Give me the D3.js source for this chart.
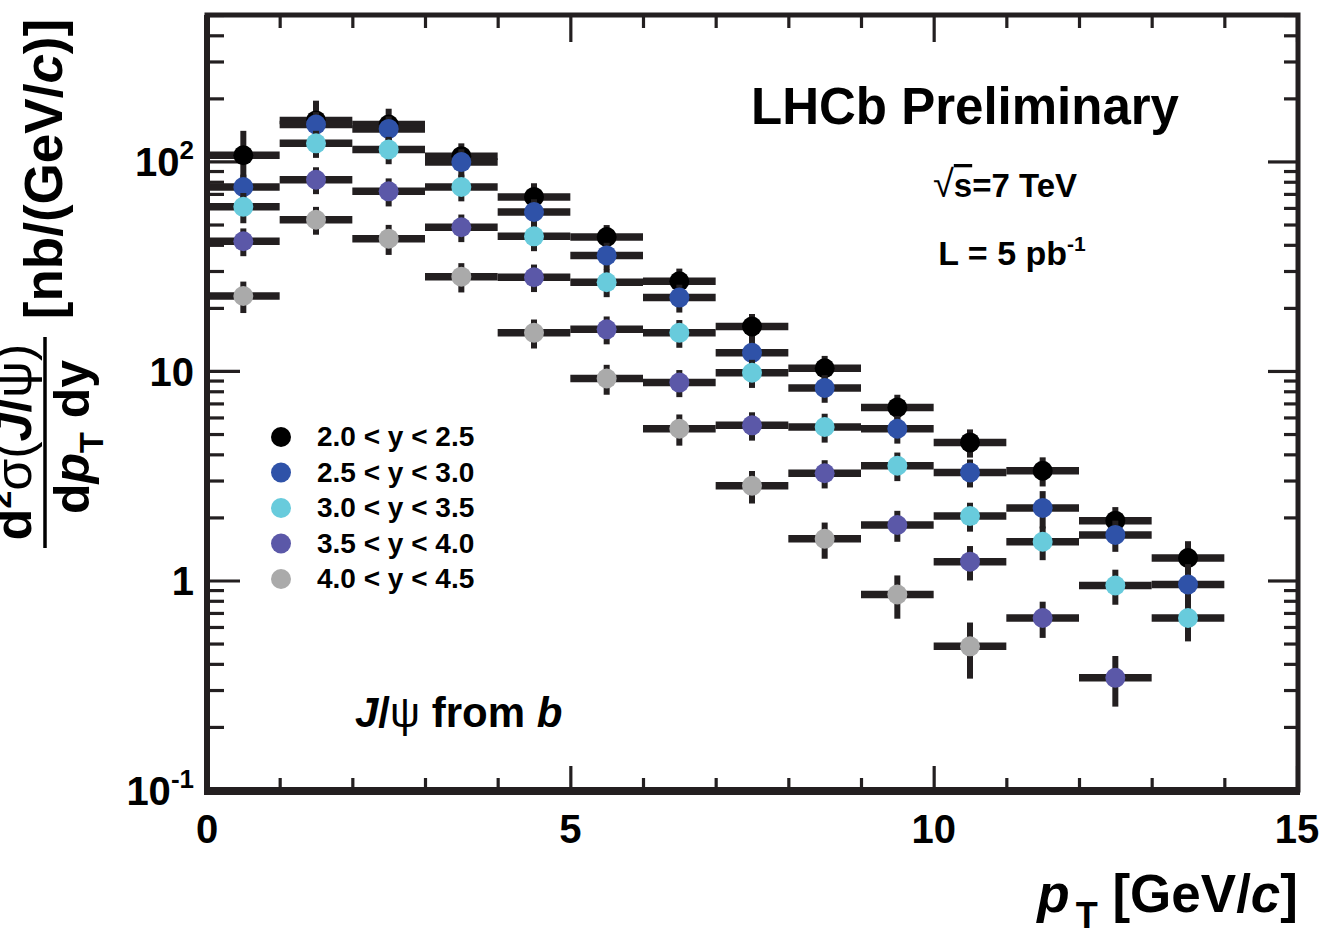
<!DOCTYPE html>
<html><head><meta charset="utf-8">
<script src="https://cdn.jsdelivr.net/npm/d3@7"></script>
<style>
html,body{margin:0;padding:0;background:#fff;}
svg text{font-family:"Liberation Sans",Arial,Helvetica,sans-serif;font-weight:bold;fill:#000;}
</style></head><body>
<svg id="chart" width="1325" height="939"></svg>
<script>
// ---------------- data ----------------
const ptCenters = [0.5,1.5,2.5,3.5,4.5,5.5,6.5,7.5,8.5,9.5,10.5,11.5,12.5,13.5];
const binHalfWidth = 0.5;
const seriesLabels = ["2.0 < y < 2.5","2.5 < y < 3.0","3.0 < y < 3.5","3.5 < y < 4.0","4.0 < y < 4.5"];
const seriesColors = ["#000000","#2f52a8","#68cbdc","#5b58a8","#aaaaaa"];

const valsY20 = [107,157,150,106,67.7,43.6,26.8,16.3,10.3,6.7,4.56,3.34,1.93,1.28];
const errsY20 = [33,38,28.5,16,11,6.1,4.0,2.4,1.5,1.0,0.7,0.53,0.31,0.26];
const valsY25 = [75.5,150,143,99.3,57.4,35.6,22.4,12.2,8.3,5.3,3.28,2.22,1.65,0.957];
const errsY25 = [11,22,21,15,8.6,5.3,3.4,1.8,1.25,0.8,0.5,0.45,0.28,0.24];
const valsY30 = [60.7,122,114,75.5,43.9,26.5,15.2,9.8,5.4,3.53,2.03,1.53,0.946,0.662];
const errsY30 = [10,18,17,11,6.6,4.0,2.3,1.5,0.85,0.55,0.32,0.28,0.18,0.15];
const valsY35 = [41.6,81.8,72,48.5,28.0,15.8,8.8,5.5,3.25,1.84,1.23,0.662,0.343];
const errsY35 = [6.3,12,11,7.3,4.2,2.4,1.3,0.85,0.5,0.31,0.23,0.13,0.093];
const valsY40 = [22.8,52.7,42.8,28.2,15.2,9.2,5.3,2.83,1.58,0.857,0.485];
const errsY40 = [3.9,8,7,4.5,2.4,1.5,0.9,0.5,0.31,0.2,0.145];

const xMajorTicks = [0,5,10,15];
const xMinorTicks = [1,2,3,4,6,7,8,9,11,12,13,14];
const xTickLabels = ["0","5","10","15"];
const yMajorTicks = [0.1,1,10,100];
const yTickBase = ["10","1","10","10"];
const yTickExp = ["-1","","","2"];
const yMinorTicks = [0.2,0.3,0.4,0.5,0.6,0.7,0.8,0.9,2,3,4,5,6,7,8,9,20,30,40,50,60,70,80,90,200,300,400,500];

// ---------------- layout ----------------
const svg = d3.select("#chart");
const L = 207, R = 1298, T = 15, B = 790;
const x = d3.scaleLinear().domain([0,15]).range([L, L + 1090]);
const y = d3.scaleLog().domain([0.1,500]).range([B, T]);
const ink = "#231f20";

const series = [
  {label: seriesLabels[0], color: seriesColors[0], v: valsY20, e: errsY20},
  {label: seriesLabels[1], color: seriesColors[1], v: valsY25, e: errsY25},
  {label: seriesLabels[2], color: seriesColors[2], v: valsY30, e: errsY30},
  {label: seriesLabels[3], color: seriesColors[3], v: valsY35, e: errsY35},
  {label: seriesLabels[4], color: seriesColors[4], v: valsY40, e: errsY40}
];

// ---------------- axes (ticks inward) ----------------
function styleAxis(g){
  g.select(".domain").remove();
  g.selectAll(".tick line").attr("stroke", ink).attr("stroke-width", 3.2);
  g.selectAll(".tick text").remove();
}
svg.append("g").attr("transform",`translate(0,${B})`)
  .call(d3.axisBottom(x).tickValues(xMajorTicks).tickSize(-24)).call(styleAxis);
svg.append("g").attr("transform",`translate(0,${B})`)
  .call(d3.axisBottom(x).tickValues(xMinorTicks).tickSize(-12)).call(styleAxis);
svg.append("g").attr("transform",`translate(0,${T})`)
  .call(d3.axisTop(x).tickValues(xMajorTicks).tickSize(-27)).call(styleAxis);
svg.append("g").attr("transform",`translate(0,${T})`)
  .call(d3.axisTop(x).tickValues(xMinorTicks).tickSize(-13)).call(styleAxis);
svg.append("g").attr("transform",`translate(${L},0)`)
  .call(d3.axisLeft(y).tickValues(yMajorTicks).tickSize(-33)).call(styleAxis);
svg.append("g").attr("transform",`translate(${L},0)`)
  .call(d3.axisLeft(y).tickValues(yMinorTicks).tickSize(-17)).call(styleAxis);
svg.append("g").attr("transform",`translate(${R},0)`)
  .call(d3.axisRight(y).tickValues(yMajorTicks).tickSize(-30)).call(styleAxis);
svg.append("g").attr("transform",`translate(${R},0)`)
  .call(d3.axisRight(y).tickValues(yMinorTicks).tickSize(-14)).call(styleAxis);

// frame
svg.append("rect").attr("x",L).attr("y",T).attr("width",R-L).attr("height",B-T)
  .attr("fill","none").attr("stroke",ink).attr("stroke-width",5);
svg.append("line").attr("x1",L-3).attr("x2",R+2).attr("y1",B+1).attr("y2",B+1)
  .attr("stroke",ink).attr("stroke-width",8);
svg.append("line").attr("x1",L).attr("x2",L).attr("y1",T).attr("y2",B)
  .attr("stroke",ink).attr("stroke-width",6);

// x tick labels
svg.append("g").selectAll("text").data(xMajorTicks).join("text")
  .attr("x", d => x(d)).attr("y", 843).attr("text-anchor","middle")
  .attr("font-size", 40).text((d,i) => xTickLabels[i]);

// y tick labels
const yl = svg.append("g").selectAll("text").data(yMajorTicks).join("text")
  .attr("x", 194).attr("y", d => y(d) + 15).attr("text-anchor","end").attr("font-size", 40);
yl.append("tspan").text((d,i) => yTickBase[i]);
yl.append("tspan").attr("font-size", 26).attr("dy", -17).text((d,i) => yTickExp[i]);

// ---------------- data marks ----------------
series.forEach(s => {
  const g = svg.append("g");
  const pts = s.v.map((v,i) => ({c: ptCenters[i], v, e: s.e[i]}));
  g.selectAll("line.h").data(pts).join("line").attr("class","h")
    .attr("x1", d => x(d.c - binHalfWidth)).attr("x2", d => x(d.c + binHalfWidth))
    .attr("y1", d => y(d.v)).attr("y2", d => y(d.v))
    .attr("stroke", ink).attr("stroke-width", 7.5);
  g.selectAll("line.v").data(pts).join("line").attr("class","v")
    .attr("x1", d => x(d.c)).attr("x2", d => x(d.c))
    .attr("y1", d => y(d.v + d.e)).attr("y2", d => y(Math.max(d.v - d.e, 0.01)))
    .attr("stroke", ink).attr("stroke-width", 6);
  g.selectAll("circle").data(pts).join("circle")
    .attr("cx", d => x(d.c)).attr("cy", d => y(d.v)).attr("r", 10)
    .attr("fill", s.color);
});

// ---------------- legend ----------------
const leg = svg.append("g").selectAll("g").data(series).join("g")
  .attr("transform", (d,i) => `translate(281,${437 + i*35.5})`);
leg.append("circle").attr("r", 10).attr("fill", d => d.color);
leg.append("text").attr("x", 36).attr("y", 9).attr("font-size", 28).text(d => d.label);

// ---------------- annotations ----------------
svg.append("text").attr("x", 965).attr("y", 124).attr("text-anchor","middle")
  .attr("font-size", 51).text("LHCb Preliminary");
const sq = svg.append("text").attr("x", 1005).attr("y", 197).attr("text-anchor","middle").attr("font-size", 33);
sq.append("tspan").attr("font-weight","normal").attr("font-size", 38).text("\u221A");
sq.append("tspan").attr("text-decoration","overline").text("s");
sq.append("tspan").text("=7 TeV");
const lum = svg.append("text").attr("x", 1012).attr("y", 265).attr("text-anchor","middle").attr("font-size", 34);
lum.append("tspan").text("L = 5 pb");
lum.append("tspan").attr("font-size", 21).attr("dy", -14).text("-1");

const jp = svg.append("text").attr("x", 355).attr("y", 727).attr("font-size", 42);
jp.append("tspan").attr("font-style","italic").text("J");
jp.append("tspan").text("/");
jp.append("tspan").attr("font-weight","normal").text("\u03C8");
jp.append("tspan").text(" from ");
jp.append("tspan").attr("font-style","italic").text("b");

// x axis title
const xt = svg.append("text").attr("x", 1298).attr("y", 912).attr("text-anchor","end").attr("font-size", 53);
xt.append("tspan").attr("font-style","italic").text("p");
xt.append("tspan").attr("font-size", 36).attr("dy", 16).attr("dx", 6).text("T");
xt.append("tspan").attr("dy", -16).text(" [GeV/");
xt.append("tspan").attr("font-style","italic").text("c");
xt.append("tspan").text("]");

// y axis title (rotated)
const yt = svg.append("g").attr("transform","rotate(-90)");
yt.append("line").attr("x1",-548).attr("x2",-337).attr("y1",45).attr("y2",45)
  .attr("stroke","#000").attr("stroke-width",3.5);
const num = yt.append("text").attr("x",-442).attr("y",31).attr("text-anchor","middle").attr("font-size",52);
num.append("tspan").text("d");
num.append("tspan").attr("font-size",32).attr("dy",-20).text("2");
num.append("tspan").attr("dy",20).attr("font-weight","normal").text("\u03C3");
num.append("tspan").attr("font-weight","normal").text("(");
num.append("tspan").attr("font-style","italic").text("J");
num.append("tspan").text("/");
num.append("tspan").attr("font-weight","normal").text("\u03C8");
num.append("tspan").attr("font-weight","normal").text(")");
const den = yt.append("text").attr("x",-437).attr("y",89).attr("text-anchor","middle").attr("font-size",50);
den.append("tspan").text("d");
den.append("tspan").attr("font-style","italic").text("p");
den.append("tspan").attr("font-size",34).attr("dy",14).text("T");
den.append("tspan").attr("dy",-14).text(" dy");
const unit = yt.append("text").attr("x",-169).attr("y",62).attr("text-anchor","middle").attr("font-size",53);
unit.append("tspan").text("[nb/(GeV/");
unit.append("tspan").attr("font-style","italic").text("c");
unit.append("tspan").text(")]");
</script>
</body></html>
